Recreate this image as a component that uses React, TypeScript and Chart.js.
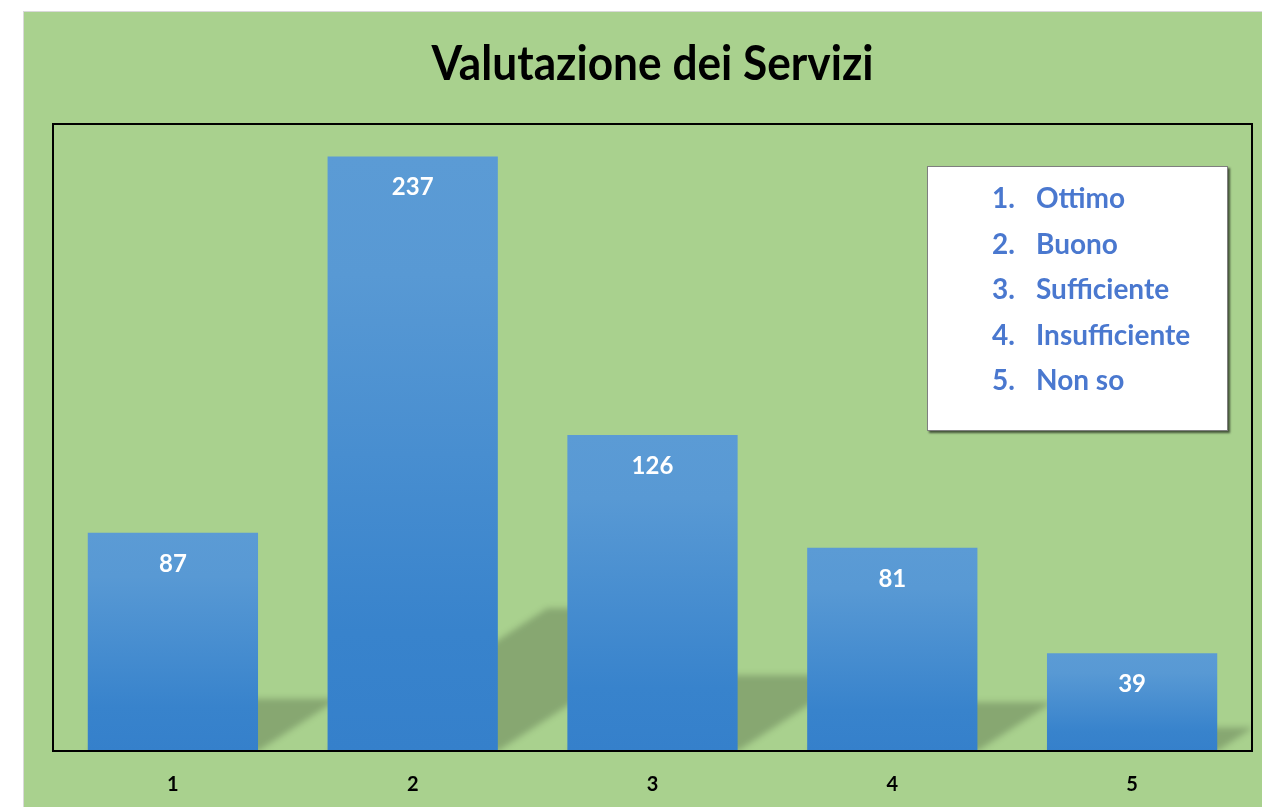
import React, { useEffect, useRef } from "react";
import { Chart, registerables } from "chart.js";

Chart.register(...registerables);

const categories = ["1", "2", "3", "4", "5"];
const values = [87, 237, 126, 81, 39];
const legendNumbers = ["1.", "2.", "3.", "4.", "5."];
const legendLabels = ["Ottimo", "Buono", "Sufficiente", "Insufficiente", "Non so"];
const chartTitle = "Valutazione dei Servizi";
const yMin = 0;
const yMax = 250;

const FONT = "Lato, sans-serif";

const shadowPlugin = {
  id: "barShadows",
  beforeDatasetsDraw(chart: any) {
    const { ctx, chartArea } = chart;
    const meta = chart.getDatasetMeta(0);
    ctx.save();
    ctx.beginPath();
    ctx.rect(chartArea.left, chartArea.top, chartArea.right - chartArea.left, chartArea.bottom - chartArea.top);
    ctx.clip();
    ctx.filter = "blur(3px)";
    ctx.fillStyle = "rgba(0,0,0,0.2)";
    meta.data.forEach((bar: any) => {
      const p = bar.getProps(["x", "y", "base", "width"], true);
      const x0 = p.x - p.width / 2;
      const x1 = p.x + p.width / 2;
      const h = p.base - p.y;
      const sh = h * 0.24;
      const d = sh * 1.54;
      ctx.beginPath();
      ctx.moveTo(x0, p.base);
      ctx.lineTo(x1, p.base);
      ctx.lineTo(x1 + d, p.base - sh);
      ctx.lineTo(x0 + d, p.base - sh);
      ctx.closePath();
      ctx.fill();
    });
    ctx.restore();
  },
};

const decorPlugin = {
  id: "decor",
  afterDatasetsDraw(chart: any) {
    const { ctx, chartArea } = chart;
    const meta = chart.getDatasetMeta(0);
    ctx.save();
    // value labels
    ctx.fillStyle = "#ffffff";
    ctx.font = `bold 24px ${FONT}`;
    ctx.textAlign = "center";
    ctx.textBaseline = "middle";
    meta.data.forEach((bar: any, i: number) => {
      const p = bar.getProps(["x", "y"], true);
      ctx.fillText(String(values[i]), p.x, p.y + 31);
    });
    // plot frame
    ctx.strokeStyle = "#000000";
    ctx.lineWidth = 2;
    ctx.strokeRect(chartArea.left, chartArea.top, chartArea.right - chartArea.left, chartArea.bottom - chartArea.top);
    // title (slightly condensed to mimic the narrow original face)
    ctx.fillStyle = "#000000";
    ctx.font = `bold 47px ${FONT}`;
    ctx.textAlign = "center";
    ctx.textBaseline = "middle";
    const tw = ctx.measureText(chartTitle).width;
    const sx = Math.min(1, 442 / tw);
    ctx.save();
    ctx.translate((chartArea.left + chartArea.right) / 2, chartArea.top - 59);
    ctx.scale(sx, 1);
    ctx.fillText(chartTitle, 0, 0);
    ctx.restore();
    // legend box
    const bw = 301;
    const bh = 265;
    const bx = chartArea.right - 24 - bw;
    const by = chartArea.top + 42;
    ctx.save();
    ctx.shadowColor = "rgba(0,0,0,0.6)";
    ctx.shadowOffsetX = 2;
    ctx.shadowOffsetY = 2;
    ctx.shadowBlur = 2;
    ctx.fillStyle = "#ffffff";
    ctx.fillRect(bx, by, bw, bh);
    ctx.restore();
    ctx.strokeStyle = "#7f7f7f";
    ctx.lineWidth = 1;
    ctx.strokeRect(bx + 0.5, by + 0.5, bw - 1, bh - 1);
    ctx.fillStyle = "#4a78cf";
    ctx.font = `bold 28px ${FONT}`;
    ctx.textAlign = "left";
    ctx.textBaseline = "middle";
    legendLabels.forEach((lab, i) => {
      const yy = by + 33 + i * 45.5;
      ctx.fillText(legendNumbers[i], bx + 65, yy);
      ctx.fillText(lab, bx + 109, yy);
    });
    ctx.restore();
  },
};

export default function App() {
  const canvasRef = useRef<HTMLCanvasElement | null>(null);

  useEffect(() => {
    const canvas = canvasRef.current;
    if (!canvas) return;
    const chart = new Chart(canvas, {
      type: "bar",
      data: {
        labels: categories,
        datasets: [
          {
            data: values,
            barPercentage: 0.71,
            categoryPercentage: 1,
            borderWidth: 0,
            backgroundColor: (c: any) => {
              const ch = c.chart;
              const area = ch.chartArea;
              if (!area || c.dataIndex === undefined) return "#5b9bd5";
              const yTop = ch.scales.y.getPixelForValue(values[c.dataIndex]);
              const yBase = ch.scales.y.getPixelForValue(0);
              const g = ch.ctx.createLinearGradient(0, yTop, 0, yBase);
              g.addColorStop(0, "#5b9bd5");
              g.addColorStop(0.2, "#5899d4");
              g.addColorStop(0.8, "#3883cc");
              g.addColorStop(1, "#3580cb");
              return g;
            },
          },
        ],
      },
      options: {
        responsive: false,
        devicePixelRatio: 1,
        animation: false,
        layout: { padding: { left: 29, top: 112, right: 10, bottom: 14 } },
        plugins: {
          legend: { display: false },
          title: { display: false },
          tooltip: { enabled: false },
        },
        scales: {
          x: {
            grid: { display: false, drawTicks: false },
            border: { display: false },
            ticks: {
              color: "#000000",
              font: { family: FONT, weight: "bold", size: 20 },
              padding: 22,
            },
            afterFit: (s: any) => {
              s.height = 42;
            },
          },
          y: {
            display: false,
            min: yMin,
            max: yMax,
          },
        },
      },
      plugins: [shadowPlugin, decorPlugin],
    });
    return () => chart.destroy();
  }, []);

  return (
    <div
      style={{
        position: "fixed",
        left: 0,
        top: 0,
        width: 1262,
        height: 807,
        background: "#ffffff",
        overflow: "hidden",
      }}
    >
      <canvas
        ref={canvasRef}
        width={1238}
        height={795}
        style={{
          position: "absolute",
          left: 24,
          top: 12,
          width: 1238,
          height: 795,
          background: "#a9d18e",
          boxShadow: "0 0 0 1px #d9d9d9",
        }}
      />
    </div>
  );
}
